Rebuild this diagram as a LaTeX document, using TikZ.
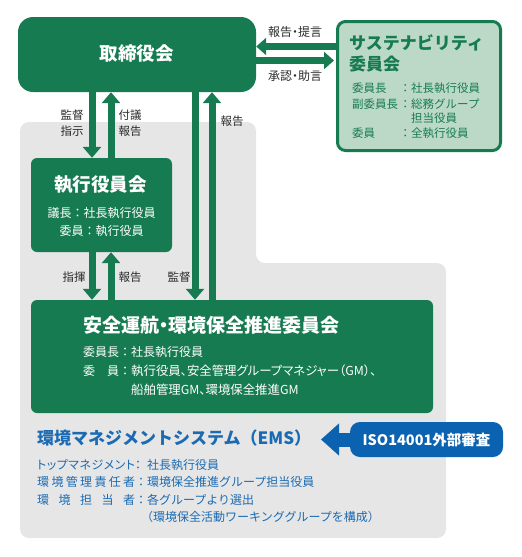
\documentclass[tikz,border=0pt]{standalone}
\usepackage{fontspec}
\setmainfont{Noto Sans CJK JP}
\newfontfamily\paltfont{Noto Sans CJK JP}[RawFeature=+palt]
\usetikzlibrary{arrows.meta}
\definecolor{grn}{HTML}{177B51}
\definecolor{lgrn}{HTML}{BCD9C8}
\definecolor{gry}{HTML}{E6E6E6}
\definecolor{blu}{HTML}{1A6BB3}
\definecolor{isob}{HTML}{0B62B0}
\definecolor{txt}{HTML}{2B2B2B}
\newcommand{\labbox}[1]{\makebox[98pt][s]{#1}}
\begin{document}
\begin{tikzpicture}[x=1pt,y=-1pt,
  gbox/.style={fill=grn, rounded corners=6pt, inner sep=0pt},
  wtxt/.style={text=white, inner sep=0pt},
  lbl/.style={text=txt, inner sep=0pt, font=\fontsize{11.5}{12}\selectfont},
  stxt/.style={text=grn, inner sep=0pt, anchor=west, font=\fontsize{11.5}{12}\selectfont},
  btxt/.style={text=blu, inner sep=0pt, anchor=west, font=\fontsize{12}{12}\selectfont},
  varr/.style={draw=grn, line width=7pt, -{Triangle[width=18pt,length=11pt]}},
  harr/.style={draw=grn, line width=7pt, -{Triangle[width=17pt,length=10pt]}},
  isoarr/.style={draw=isob, line width=14pt, -{Triangle[width=31pt,length=18pt]}}
]
\useasboundingbox (0,0) rectangle (522,557);
% grey background region
\fill[gry, rounded corners=9pt] (20,122) -- (256,122) -- (256,263) -- (446,263) -- (446,538) -- (20,538) -- cycle;

% coordinates for arrow columns / rows
\coordinate (xA) at (92,0);
\coordinate (xB) at (111,0);
\coordinate (xC) at (195,0);
\coordinate (xD) at (212,0);
\coordinate (yT) at (0,46.5);
\coordinate (yB) at (0,60.5);

% boxes
\node[gbox, rounded corners=15pt, minimum width=238pt, minimum height=75pt] (board) at (137,54.5) {};
\node[wtxt, font=\fontsize{18.5}{19}\bfseries] (boardt) at (136.5,54) {取締役会};

\node[gbox, minimum width=141pt, minimum height=94pt] (exec) at (101.5,205) {};
\node[wtxt, font=\fontsize{18.5}{19}\bfseries] (exect) at (100.5,185) {執行役員会};
\node[wtxt, font=\fontsize{12}{12}\selectfont] (exec1) at (101.5,213) {議長：社長執行役員};
\node[wtxt, font=\fontsize{12}{12}\selectfont] (exec2) at (101.5,231) {委員：執行役員};

\node[gbox, minimum width=402pt, minimum height=113pt] (safety) at (232,356.5) {};
\node[wtxt, anchor=west, font=\fontsize{19}{19}\bfseries\paltfont] (safetyt) at (83,325) {安全運航・環境保全推進委員会};
\node[wtxt, anchor=west, font=\fontsize{12}{12}\selectfont] (saf1l) at (83,352) {委員長：};
\node[wtxt, anchor=west, font=\fontsize{12}{12}\selectfont] (saf1v) at (131,352) {社長執行役員};
\node[wtxt, anchor=west, font=\fontsize{12}{12}\selectfont] (saf2l) at (83,371) {委　員：};
\node[wtxt, anchor=west, font=\fontsize{12.4}{12}\paltfont] (saf2v) at (131,371) {執行役員、安全管理グループマネジャー（GM）、};
\node[wtxt, anchor=west, font=\fontsize{12.4}{12}\paltfont] (saf3v) at (131,390) {船舶管理GM、環境保全推進GM};

\node[draw=grn, line width=3pt, fill=lgrn, rounded corners=8pt, minimum width=163pt, minimum height=129pt, inner sep=0pt] (sust) at (419,86) {};
\node[stxt, font=\fontsize{17}{17}\bfseries] (sustt1) at (349,43) {サステナビリティ};
\node[stxt, font=\fontsize{17}{17}\bfseries] (sustt2) at (349,64) {委員会};
\node[stxt] (sus1l) at (352,88) {委員長};
\node[stxt] (sus1v) at (399.5,88) {：社長執行役員};
\node[stxt] (sus2l) at (352,104) {副委員長};
\node[stxt] (sus2v) at (399.5,104) {：総務グループ};
\node[stxt] (sus3v) at (411,118) {担当役員};
\node[stxt] (sus4l) at (352,133) {委員};
\node[stxt] (sus4v) at (399.5,133) {：全執行役員};

% EMS area
\node[text=blu, inner sep=0pt, anchor=west, font=\fontsize{17}{17}\bfseries] (ems) at (37,438) {環境マネジメントシステム（EMS）};
\node[btxt] (ems1l) at (37,465) {\paltfont\labbox{ト\hfill ッ\hfill プ\hfill マ\hfill ネ\hfill ジ\hfill メ\hfill ン\hfill ト}：};
\node[btxt] (ems1v) at (147,465) {社長執行役員};
\node[btxt] (ems2l) at (37,482) {\labbox{環\hfill 境\hfill 管\hfill 理\hfill 責\hfill 任\hfill 者}：};
\node[btxt] (ems2v) at (147,482) {環境保全推進グループ担当役員};
\node[btxt] (ems3l) at (37,500) {\labbox{環\hfill 境\hfill 担\hfill 当\hfill 者}：};
\node[btxt] (ems3v) at (147,500) {各グループより選出};
\node[btxt] (ems4v) at (141,517) {（環境保全活動ワーキンググループを構成）};

\node[fill=isob, rounded corners=10pt, minimum width=153pt, minimum height=35pt, inner sep=0pt, text=white, font=\fontsize{14.5}{15}\bfseries] (iso) at (426.5,439.5) {ISO14001外部審査};
\coordinate (isotip) at (321,439.5);

% arrows
\draw[varr] (board.south -| xA) -- (exec.north -| xA);
\draw[varr] (exec.north -| xB) -- (board.south -| xB);
\draw[varr] (board.south -| xC) -- (safety.north -| xC);
\draw[varr] (safety.north -| xD) -- (board.south -| xD);
\draw[varr] (exec.south -| xA) -- (safety.north -| xA);
\draw[varr] (safety.north -| xB) -- (exec.south -| xB);
\draw[harr] (sust.west |- yT) -- (board.east |- yT);
\draw[harr, shorten >=2pt] (board.east |- yB) -- (sust.west |- yB);
\draw[isoarr] (iso.west) -- (isotip);

% arrow labels
\node[lbl, font=\fontsize{12}{12}\paltfont] (l1) at (295,32) {報告・提言};
\node[lbl, font=\fontsize{12}{12}\paltfont] (l2) at (295,76) {承認・助言};
\node[lbl] (l3) at (72,115) {監督};
\node[lbl] (l4) at (72,131) {指示};
\node[lbl] (l5) at (130,115) {付議};
\node[lbl] (l6) at (130,131) {報告};
\node[lbl] (l7) at (232,121) {報告};
\node[lbl] (l8) at (74,277) {指揮};
\node[lbl] (l9) at (130,277) {報告};
\node[lbl] (l10) at (179,277) {監督};
\end{tikzpicture}
\end{document}
